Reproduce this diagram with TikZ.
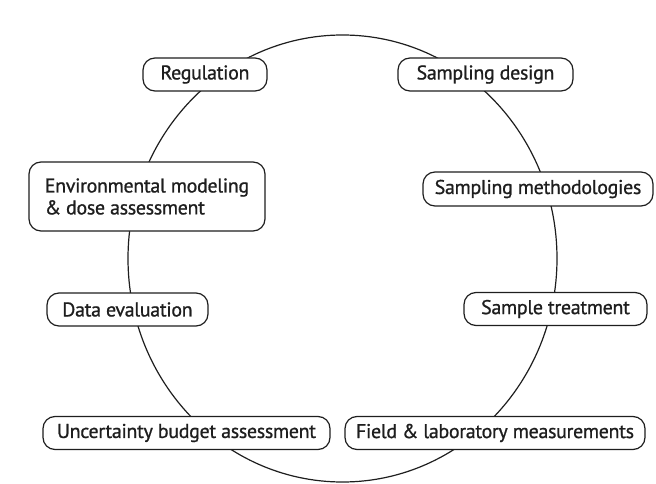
\documentclass[tikz,border=0pt]{standalone}
\usepackage{fontspec}
\setmainfont{PT Sans}[FakeBold=0.9, LetterSpace=-1.5]
\usetikzlibrary{shapes.geometric}
\definecolor{ink}{HTML}{1E1E1E}
\begin{document}
\begin{tikzpicture}[x=1bp,y=-1bp,
  stage/.style={draw=ink, line width=1.2bp, rounded corners=12bp, fill=white,
    inner sep=0pt, minimum height=33bp, text=ink,
    font=\fontsize{20}{22}\selectfont},
  ring/.style={draw=ink, line width=1.2bp, ellipse, inner sep=0pt,
    minimum width=429bp, minimum height=447bp}]
\useasboundingbox (0,0) rectangle (656,484);
% the cycle that links all stages
\node[ring] (cycle) at (342.5,258.5) {};
% left side of the cycle
\node[stage, minimum width=124bp] (regulation) at (205,74.5) {Regulation};
\node[stage, minimum width=236bp, minimum height=69bp, align=left] (modeling) at (147,196.5)
  {Environmental modeling\\\& dose assessment};
\node[stage, minimum width=161bp] (evaluation) at (127.5,309.5) {Data evaluation};
\node[stage, minimum width=287bp] (uncertainty) at (186.5,433) {Uncertainty budget assessment};
% right side of the cycle
\node[stage, minimum width=175bp] (design) at (485.5,74.5) {Sampling design};
\node[stage, minimum width=230bp, minimum height=34bp] (methods) at (538,189) {Sampling methodologies};
\node[stage, minimum width=183bp] (treatment) at (555.5,309) {Sample treatment};
\node[stage, minimum width=300bp] (measurements) at (495,433) {Field \& laboratory measurements};
\end{tikzpicture}
\end{document}
